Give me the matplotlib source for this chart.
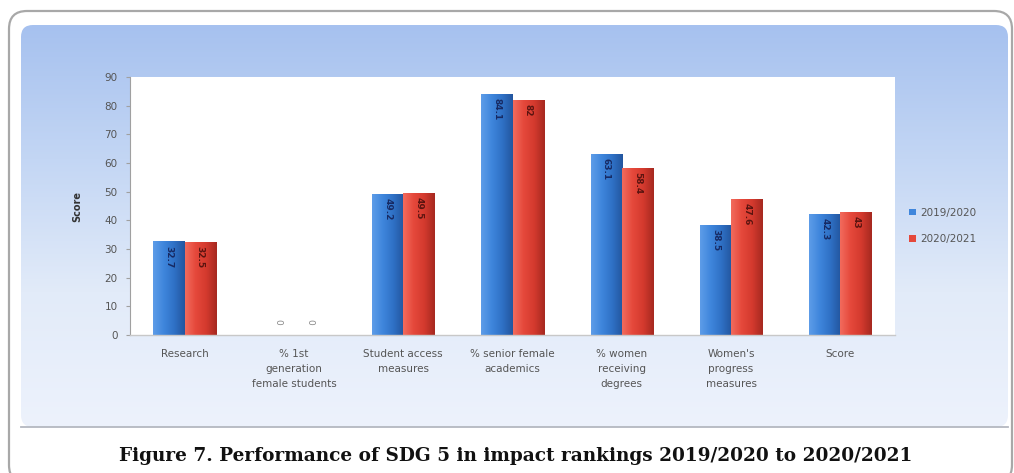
import numpy as np
import matplotlib
matplotlib.use("Agg")
import matplotlib.pyplot as plt
from matplotlib.patches import FancyBboxPatch, Rectangle
from matplotlib.colors import LinearSegmentedColormap

categories = ["Research", "% 1st\ngeneration\nfemale students", "Student access\nmeasures",
              "% senior female\nacademics", "% women\nreceiving\ndegrees",
              "Women's\nprogress\nmeasures", "Score"]
series = ["2019/2020", "2020/2021"]
v2019 = [32.7, 0, 49.2, 84.1, 63.1, 38.5, 42.3]
v2020 = [32.5, 0, 49.5, 82, 58.4, 47.6, 43]
labels2019 = ["32.7", "0", "49.2", "84.1", "63.1", "38.5", "42.3"]
labels2020 = ["32.5", "0", "49.5", "82", "58.4", "47.6", "43"]
yticks = list(range(0, 91, 10))
ylabel = "Score"
caption = "Figure 7. Performance of SDG 5 in impact rankings 2019/2020 to 2020/2021"

W, H = 1014, 473
fig = plt.figure(figsize=(W / 100, H / 100), dpi=100)
fig.patch.set_facecolor("white")

# background / frame
bg = fig.add_axes([0, 0, 1, 1])
bg.set_xlim(0, W)
bg.set_ylim(H, 0)
bg.axis("off")
frame = FancyBboxPatch((9, 11), 1003, 472, boxstyle="round,pad=0,rounding_size=18",
                       fc="white", ec="#a8a8a8", lw=1.6, zorder=0)
bg.add_patch(frame)
grad = np.linspace(0, 1, 256)[:, None]
pcmap = LinearSegmentedColormap.from_list("p", ["#a6c1ef", "#c3d6f4", "#e2ebf9", "#edf2fc"])
panel = FancyBboxPatch((21, 25), 987, 402, boxstyle="round,pad=0,rounding_size=12",
                       fc="none", ec="none")
bg.add_patch(panel)
im = bg.imshow(grad, extent=(21, 1008, 427, 25), cmap=pcmap, aspect="auto", zorder=1)
im.set_clip_path(panel)
bg.set_xlim(0, W)
bg.set_ylim(H, 0)
bg.plot([21, 1008], [427, 427], color="#b4b8c0", lw=1.3, zorder=2)
bg.text(516, 456, caption, ha="center", va="center", fontsize=13.3, fontweight="bold",
        family="DejaVu Serif", color="#111111")

# main axes
ax = fig.add_axes([130 / W, 1 - 335 / H, (895 - 130) / W, (335 - 77) / H])
ax.set_facecolor("white")
x = np.arange(len(categories))
bw = 0.285
blue_cols = ["#5d9ce8", "#3f86dc", "#2f71c6", "#23569f"]
red_cols = ["#f26b5d", "#e5483b", "#d43a2e", "#a62920"]


def grad_bar(patch, colors):
    h = patch.get_height()
    if h <= 0:
        return
    x0, y0, w = patch.get_x(), patch.get_y(), patch.get_width()
    g = np.linspace(0, 1, 64)[None, :]
    cm = LinearSegmentedColormap.from_list("b", colors)
    bi = ax.imshow(g, extent=(x0, x0 + w, y0, y0 + h), cmap=cm, aspect="auto",
                   zorder=patch.get_zorder() + 0.1, interpolation="bilinear")
    bi.set_clip_path(patch)


b1 = ax.bar(x - bw / 2, v2019, bw, color=blue_cols[1], label=series[0], zorder=2)
b2 = ax.bar(x + bw / 2, v2020, bw, color=red_cols[1], label=series[1], zorder=2)
for p in b1:
    grad_bar(p, blue_cols)
for p in b2:
    grad_bar(p, red_cols)

for xi, v, lab in zip(x, v2019, labels2019):
    if v > 0:
        ax.text(xi - bw / 2, v - 1.5, lab, rotation=270, ha="center", va="top",
                fontsize=6.5, color="#172a63", fontweight="bold", zorder=5)
    else:
        ax.text(xi - bw / 2, 4.5, lab, rotation=270, ha="center", va="center",
                fontsize=6.5, color="#8a8a8a", zorder=5)
for xi, v, lab in zip(x, v2020, labels2020):
    if v > 0:
        ax.text(xi + bw / 2, v - 1.5, lab, rotation=270, ha="center", va="top",
                fontsize=6.5, color="#5a1410", fontweight="bold", zorder=5)
    else:
        ax.text(xi + bw / 2, 4.5, lab, rotation=270, ha="center", va="center",
                fontsize=6.5, color="#8a8a8a", zorder=5)

ax.set_xlim(-0.5, len(categories) - 0.5)
ax.set_ylim(0, 90)
ax.set_yticks(yticks)
ax.set_xticks(x)
ax.set_xticklabels(categories, fontsize=7.5, color="#555555", linespacing=1.65)
ax.tick_params(axis="x", length=0, pad=10)
ax.tick_params(axis="y", length=3, width=0.8, color="#a0a0a0", pad=6,
               labelsize=7.5, labelcolor="#555555")
for s in ["top", "right"]:
    ax.spines[s].set_visible(False)
ax.spines["left"].set_color("#a0a0a0")
ax.spines["bottom"].set_color("#c8c8c8")
ax.spines["left"].set_linewidth(0.8)
ax.spines["bottom"].set_linewidth(1.0)
ax.set_ylabel(ylabel, fontsize=7, fontweight="bold", color="#333333")
ax.yaxis.set_label_coords((82 - 130) / 765, 0.5)

leg = fig.legend(handles=[b1, b2], labels=series, loc="center left",
                 bbox_to_anchor=(900 / W, 1 - 226 / H), frameon=False, fontsize=7.5,
                 handlelength=0.6, handleheight=0.6, handletextpad=0.4, labelspacing=1.6)
for t in leg.get_texts():
    t.set_color("#555555")

fig.savefig("out.png", dpi=100, facecolor="white")
